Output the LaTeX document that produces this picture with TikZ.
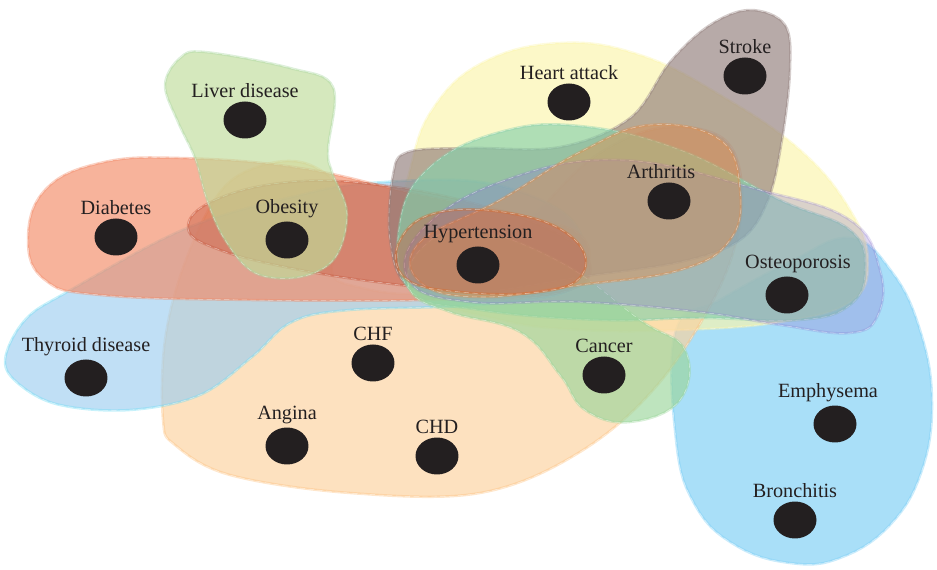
\documentclass[tikz,border=0pt]{standalone}
\usepackage{fontspec}
\setmainfont{Liberation Serif}
\usetikzlibrary{positioning,shapes.geometric}
\definecolor{peachC}{HTML}{FCD19D}
\definecolor{yellowC}{HTML}{FBF5AB}
\definecolor{lungC}{HTML}{7BCEF5}
\definecolor{thyroidC}{HTML}{9ECEF0}
\definecolor{salmonC}{HTML}{F38A66}
\definecolor{liverC}{HTML}{BFDC9A}
\definecolor{strokeC}{HTML}{917D7A}
\definecolor{tealC}{HTML}{86D0AB}
\definecolor{cancerC}{HTML}{9BD69B}
\definecolor{redC}{HTML}{C85A40}
\definecolor{purpleC}{HTML}{8C78D0}
\definecolor{tanC}{HTML}{E09050}
\definecolor{dotC}{HTML}{231F20}
\tikzset{
  blob/.style={line width=1.4pt, fill opacity=0.65, draw opacity=0.4,
    postaction={draw=white, draw opacity=0.45, line width=0.3pt, dash pattern=on 3pt off 2pt}},
  dot/.style={ellipse, fill=dotC, minimum width=0.86cm, minimum height=0.74cm, inner sep=0pt},
  lbl/.style={font=\fontsize{11.5}{13}\selectfont, text=dotC, inner sep=0.5pt}
}
\begin{document}
\begin{tikzpicture}[x=0.02cm,y=-0.02cm]
\useasboundingbox (0,0) rectangle (937,570);
% hyperedges
\draw[blob,fill=lungC,draw=lungC] plot[smooth cycle,tension=0.7] coordinates {(676,330) (720,300) (790,262) (850,238) (892,272) (920,330) (932,400) (922,470) (890,525) (840,558) (790,563) (735,545) (695,505) (676,440)};
\draw[blob,fill=yellowC,draw=yellowC] plot[smooth cycle,tension=0.7] coordinates {(410,170) (432,110) (482,63) (560,43) (640,55) (720,95) (800,150) (850,210) (868,262) (850,302) (780,322) (680,330) (580,330) (500,320) (420,292) (400,232)};
\draw[blob,fill=peachC,draw=peachC!80!orange] plot[smooth cycle,tension=0.6] coordinates {(163,420) (165,340) (185,262) (220,192) (260,166) (305,163) (342,190) (347,230) (332,268) (350,285) (430,290) (520,228) (590,160) (660,128) (725,140) (742,200) (722,282) (660,382) (580,452) (480,493) (350,493) (230,475) (175,445)};
\draw[blob,fill=thyroidC,draw=thyroidC!70!cyan] plot[smooth cycle,tension=0.6] coordinates {(5,360) (25,320) (67,292) (187,228) (300,195) (370,183) (480,182) (560,210) (585,250) (570,290) (480,305) (350,310) (292,322) (252,357) (200,395) (130,410) (60,405) (20,385)};
\draw[blob,fill=salmonC,draw=salmonC] plot[smooth cycle,tension=0.7] coordinates {(28,240) (45,190) (100,163) (180,158) (300,168) (420,195) (520,215) (580,235) (585,270) (550,295) (430,300) (250,300) (100,295) (45,280)};
\draw[blob,fill=redC,draw=redC,fill opacity=0.45] plot[smooth cycle,tension=0.7] coordinates {(188,228) (215,200) (290,182) (380,185) (480,205) (560,235) (590,265) (570,290) (500,295) (400,285) (300,270) (220,250)};
\draw[blob,fill=liverC,draw=liverC!60!tealC] plot[smooth cycle,tension=0.6] coordinates {(165,85) (180,58) (205,52) (290,68) (333,87) (328,150) (332,172) (347,213) (335,258) (300,277) (255,273) (225,240) (207,200) (195,158) (178,122)};
\draw[blob,fill=strokeC,draw=strokeC] plot[smooth cycle,tension=0.6] coordinates {(393,175) (408,152) (470,148) (560,147) (630,118) (670,62) (710,25) (750,10) (785,25) (790,70) (782,140) (768,200) (740,240) (680,262) (580,277) (480,292) (410,287) (390,240)};
\draw[blob,fill=tealC,draw=tealC] plot[smooth cycle,tension=0.7] coordinates {(400,222) (430,167) (500,132) (580,126) (680,150) (780,200) (850,230) (865,270) (850,305) (800,320) (700,318) (600,320) (480,310) (410,290)};
\draw[blob,fill=cancerC,draw=cancerC] plot[smooth cycle,tension=0.7] coordinates {(420,250) (470,230) (560,262) (640,320) (685,350) (680,400) (630,422) (585,410) (560,375) (520,332) (450,312) (410,290)};
\draw[blob,fill=purpleC,draw=purpleC,fill opacity=0.3,draw opacity=0.25] plot[smooth cycle,tension=0.7] coordinates {(420,232) (500,182) (620,160) (760,190) (850,220) (880,270) (878,315) (850,333) (780,325) (700,312) (580,302) (470,302) (410,282)};
\draw[blob,fill=tanC,draw=tanC,fill opacity=0.45] plot[smooth cycle,tension=0.7] coordinates {(420,242) (500,200) (580,152) (650,125) (720,140) (740,190) (730,240) (680,270) (580,285) (480,297) (420,282)};
\draw[blob,fill=redC,draw=redC!60!orange,fill opacity=0.4] plot[smooth cycle,tension=0.7] coordinates {(400,240) (440,212) (520,215) (575,240) (582,275) (540,292) (460,292) (405,278)};
% diseases
\node[dot] (liver) at (245,120) {};
\node[lbl,above=1pt of liver] (liverT) {Liver disease};
\node[dot] (diab) at (116,237) {};
\node[lbl,above=1pt of diab] (diabT) {Diabetes};
\node[dot] (obes) at (287,240) {};
\node[lbl,above=1pt of obes] (obesT) {Obesity};
\node[dot] (hyper) at (478,265) {};
\node[lbl,above=1pt of hyper] (hyperT) {Hypertension};
\node[dot] (attack) at (569,102) {};
\node[lbl,above=1pt of attack] (attackT) {Heart attack};
\node[dot] (stroke) at (745,76) {};
\node[lbl,above=1pt of stroke] (strokeT) {Stroke};
\node[dot] (arth) at (669,201) {};
\node[lbl,above=1pt of arth,xshift=-0.16cm] (arthT) {Arthritis};
\node[dot] (osteo) at (787,295) {};
\node[lbl,above=1pt of osteo,xshift=0.22cm] (osteoT) {Osteoporosis};
\node[dot] (thyr) at (86,378) {};
\node[lbl,above=1pt of thyr] (thyrT) {Thyroid disease};
\node[dot] (chf) at (373,363) {};
\node[lbl,above=1pt of chf] (chfT) {CHF};
\node[dot] (angina) at (287,446) {};
\node[lbl,above=1pt of angina] (anginaT) {Angina};
\node[dot] (chd) at (437,456) {};
\node[lbl,above=1pt of chd] (chdT) {CHD};
\node[dot] (cancer) at (604,375) {};
\node[lbl,above=1pt of cancer] (cancerT) {Cancer};
\node[dot] (emph) at (835,424) {};
\node[lbl,above=1pt of emph,xshift=-0.14cm] (emphT) {Emphysema};
\node[dot] (bronch) at (795,520) {};
\node[lbl,above=1pt of bronch] (bronchT) {Bronchitis};
\end{tikzpicture}
\end{document}
